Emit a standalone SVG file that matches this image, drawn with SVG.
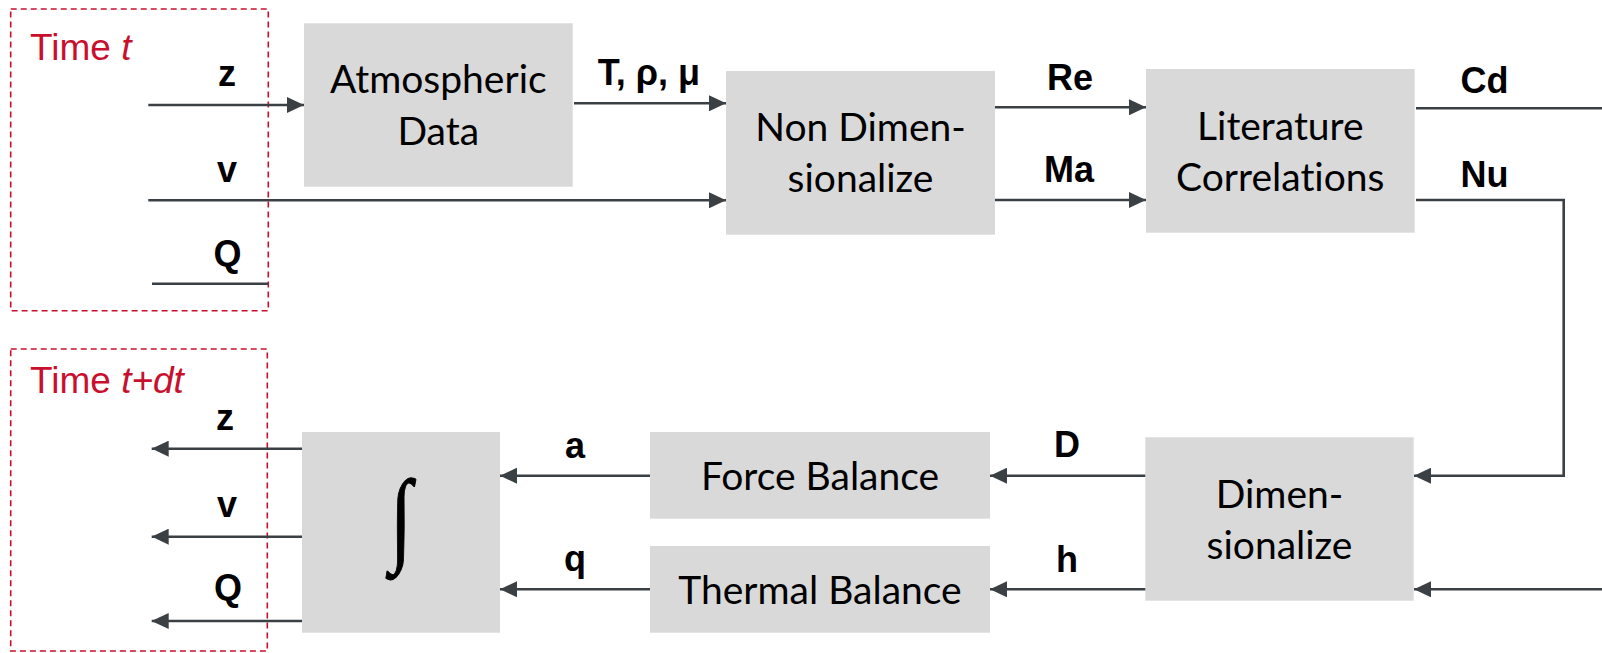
<svg xmlns="http://www.w3.org/2000/svg" width="1602" height="653" viewBox="0 0 1602 653">
<style>
.box{fill:#D9D9D9}
.bt{font-family:Lato,"Liberation Sans",sans-serif;font-size:39px;fill:#000;text-anchor:middle;font-variant-ligatures:none;font-feature-settings:"liga" 0,"clig" 0}
.lb{font-family:"Liberation Sans",Arial,sans-serif;font-size:36px;font-weight:bold;fill:#000;text-anchor:middle}
.time{font-family:"Liberation Sans",Arial,sans-serif;font-size:37px;fill:#C8102E}
.dash{fill:none;stroke:#C8102E;stroke-width:1.6;stroke-dasharray:6 4}
.ln{fill:none;stroke:#3B4045;stroke-width:2.6}
.arr{marker-end:url(#ah)}
</style>
<defs>
<marker id="ah" markerUnits="userSpaceOnUse" markerWidth="17" markerHeight="16" refX="17" refY="8" orient="auto">
<path d="M0,0 L17,8 L0,16 Z" fill="#3B4045"/>
</marker>
</defs>
<g id="time-t">
<rect class="dash" x="10.7" y="9" width="257.6" height="301.7"/>
<text class="time" x="30" y="60">Time <tspan font-style="italic">t</tspan></text>
</g>
<g id="time-tdt">
<rect class="dash" x="10.7" y="349" width="256.6" height="302"/>
<text class="time" x="30" y="393">Time <tspan font-style="italic">t+dt</tspan></text>
</g>
<g id="atmospheric">
<rect class="box" x="304" y="23.3" width="268.7" height="163.4"/>
<text class="bt" x="438.3" y="92.7">Atmospheric</text>
<text class="bt" x="438.3" y="145">Data</text>
</g>
<g id="nondim">
<rect class="box" x="726" y="71" width="269" height="163.7"/>
<text class="bt" x="860.5" y="140.7">Non Dimen-</text>
<text class="bt" x="860.5" y="191.7">sionalize</text>
</g>
<g id="literature">
<rect class="box" x="1146" y="69" width="268.7" height="163.7"/>
<text class="bt" x="1280.3" y="140">Literature</text>
<text class="bt" x="1280.3" y="190.7">Correlations</text>
</g>
<g id="dimensionalize">
<rect class="box" x="1145.3" y="437.3" width="268.4" height="163.4"/>
<text class="bt" x="1279.5" y="508.3">Dimen-</text>
<text class="bt" x="1279.5" y="559">sionalize</text>
</g>
<g id="force">
<rect class="box" x="650" y="432" width="340" height="86.7"/>
<text class="bt" x="820" y="490">Force Balance</text>
</g>
<g id="thermal">
<rect class="box" x="650" y="546" width="340" height="86.7"/>
<text class="bt" x="820" y="604">Thermal Balance</text>
</g>
<g id="integrator">
<rect class="box" x="302" y="432" width="198" height="200.7"/>
<text transform="translate(401,552.3) scale(1,1.3)" x="0" y="0" font-family="'Liberation Serif',serif" font-size="80" text-anchor="middle" fill="#000" stroke="#000" stroke-width="0.8">∫</text>
</g>
<g id="connectors">
<path class="ln arr" d="M148.3,105 H304"/>
<path class="ln arr" d="M148.3,200.3 H726"/>
<path class="ln" d="M152,283.7 H268.3"/>
<path class="ln arr" d="M574,103.3 H726"/>
<path class="ln arr" d="M995,107.3 H1146"/>
<path class="ln arr" d="M995,200 H1146"/>
<path class="ln" d="M1416,108.3 H1602"/>
<path class="ln arr" d="M1416,200 H1563.7 V475.7 H1414"/>
<path class="ln arr" d="M1602,589.3 H1414"/>
<path class="ln arr" d="M1145.3,475.7 H990"/>
<path class="ln arr" d="M1145.3,589.3 H990"/>
<path class="ln arr" d="M650,475.7 H500"/>
<path class="ln arr" d="M650,589.3 H500"/>
<path class="ln arr" d="M302,448.7 H151.7"/>
<path class="ln arr" d="M302,536.7 H151.7"/>
<path class="ln arr" d="M302,621 H151.7"/>
<text class="lb" x="227" y="86">z</text>
<text class="lb" x="227" y="181.7">v</text>
<text class="lb" x="227.5" y="266">Q</text>
<text class="lb" x="649" y="85">T, ρ, μ</text>
<text class="lb" x="1070" y="90">Re</text>
<text class="lb" x="1069" y="181.7">Ma</text>
<text class="lb" x="1484.5" y="93.3">Cd</text>
<text class="lb" x="1484.5" y="186.7">Nu</text>
<text class="lb" x="1067" y="456.7">D</text>
<text class="lb" x="1067" y="571.7">h</text>
<text class="lb" x="575" y="457.7">a</text>
<text class="lb" x="575" y="570.7">q</text>
<text class="lb" x="225" y="430">z</text>
<text class="lb" x="227" y="517.3">v</text>
<text class="lb" x="228" y="600">Q</text>
</g>
</svg>
